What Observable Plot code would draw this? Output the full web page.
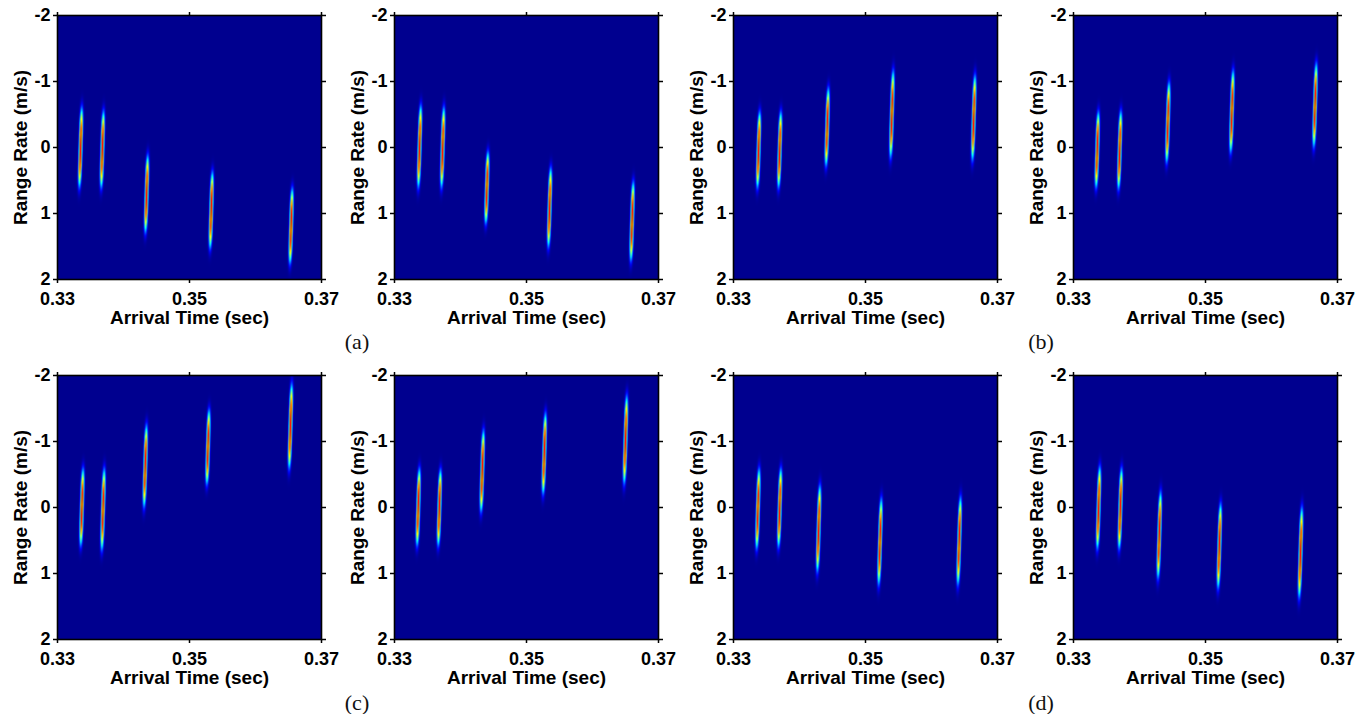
<!DOCTYPE html>
<html><head><meta charset="utf-8">
<script src="https://cdn.jsdelivr.net/npm/d3@7"></script>
<script src="https://cdn.jsdelivr.net/npm/@observablehq/plot@0.6"></script>
<style>
html,body{margin:0;padding:0;background:#fff;}
#fig{position:relative;width:1369px;height:714px;overflow:hidden;}
.panel{position:absolute;}
.panel text{font-weight:bold;}
.cap{position:absolute;font-family:"Liberation Serif","Times New Roman",serif;font-size:22px;color:#111;transform:translate(-50%,-50%);white-space:nowrap;}
</style></head><body><div id="fig"></div>
<script>
// ---- data ----
const panelIds = ["a-left","a-right","b-left","b-right","c-left","c-right","d-left","d-right"];
// arrival time of each of the 5 returns (sec)
const peakTimes = [
  [0.3335, 0.3368, 0.3435, 0.3533, 0.3654],
  [0.3338, 0.3373, 0.3440, 0.3535, 0.3660],
  [0.3338, 0.3370, 0.3442, 0.3540, 0.3664],
  [0.3336, 0.3370, 0.3443, 0.3540, 0.3666],
  [0.3337, 0.3369, 0.3433, 0.3528, 0.3653],
  [0.3336, 0.3368, 0.3433, 0.3527, 0.3650],
  [0.3337, 0.3370, 0.3429, 0.3522, 0.3642],
  [0.3338, 0.3371, 0.3430, 0.3521, 0.3644]
];
// range-rate extent of each streak: upper end (m/s)
const rateTop = [
  [-0.68, -0.62,  0.05,  0.30,  0.55],
  [-0.71, -0.68,  0.00,  0.24,  0.45],
  [-0.61, -0.61, -0.97, -1.24, -1.17],
  [-0.61, -0.62, -1.06, -1.24, -1.35],
  [-0.66, -0.66, -1.32, -1.55, -1.95],
  [-0.66, -0.64, -1.24, -1.50, -1.77],
  [-0.66, -0.66, -0.41, -0.21, -0.23],
  [-0.69, -0.66, -0.31, -0.13, -0.08]
];
// range-rate extent of each streak: lower end (m/s)
const rateBottom = [
  [0.68, 0.68,  1.36,  1.60,  1.83],
  [0.68, 0.68,  1.22,  1.58,  1.79],
  [0.68, 0.68,  0.35,  0.23,  0.27],
  [0.68, 0.70,  0.30,  0.15,  0.07],
  [0.65, 0.72,  0.07, -0.28, -0.51],
  [0.65, 0.65,  0.14, -0.13, -0.28],
  [0.70, 0.67,  1.05,  1.25,  1.25],
  [0.70, 0.70,  1.15,  1.30,  1.45]
];
const xDomain = [0.33, 0.37];
const yDomain = [-2, 2];
const xTicks = [0.33, 0.35, 0.37];
const yTicks = [-2, -1, 0, 1, 2];
const xLabel = "Arrival Time (sec)";
const yLabel = "Range Rate (m/s)";
const captions = ["(a)", "(b)", "(c)", "(d)"];
const jetStops = [0, 0.125, 0.375, 0.625, 0.875, 1];
const jetColors = ["#00008f", "#0000ff", "#00ffff", "#ffff00", "#ff0000", "#800000"];

// ---- layout ----
const W = 264, H = 264, mL = 60, mR = 14, mT = 12, mB = 62;
const colLeft = [57, 394, 733, 1073];
const rowTop = [15, 375];
const capPos = [[357, 342], [1041, 342], [357, 703], [1041, 703]];

const px = (xDomain[1] - xDomain[0]) / W;
const tilt = 0.0003, sw = 0.00016, amp = 0.98;

function intensity(k) {
  const streaks = peakTimes[k].map((t, i) => {
    const lo = rateTop[k][i], hi = rateBottom[k][i];
    return {t, rc: (lo + hi) / 2, L: (hi - lo) / 2 / 1.22};
  });
  const offs = [-0.375, -0.125, 0.125, 0.375].map(o => o * px);
  return (x, y) => {
    let best = 0;
    for (const s of streaks) {
      const d = (y - s.rc) / s.L;
      const along = Math.exp(-d * d * d * d);
      if (along < 1e-4) continue;
      const xc = s.t - tilt * (y - s.rc);
      let acc = 0;
      for (const o of offs) {
        const u = (x + o - xc) / sw;
        acc += Math.exp(-0.5 * u * u);
      }
      const v = amp * along * acc / offs.length;
      if (v > best) best = v;
    }
    return best;
  };
}

const font = "'Liberation Sans', Arial, sans-serif";
const fig = document.getElementById("fig");
panelIds.forEach((id, k) => {
  const col = k % 4, row = Math.floor(k / 4);
  const chart = Plot.plot({
    width: W + mL + mR, height: H + mT + mB,
    marginLeft: mL, marginRight: mR, marginTop: mT, marginBottom: mB,
    style: {fontFamily: font, fontSize: "18px", fontWeight: "bold", color: "black", background: "transparent", overflow: "visible"},
    x: {domain: xDomain},
    y: {domain: yDomain, reverse: true},
    color: {type: "linear", domain: jetStops, range: jetColors, interpolate: "rgb"},
    marks: [
      Plot.raster({x1: xDomain[0], x2: xDomain[1], y1: yDomain[0], y2: yDomain[1], fill: intensity(k)}),
      Plot.frame({stroke: "black", strokeWidth: 1.6}),
      Plot.axisX({anchor: "bottom", ticks: xTicks, tickSize: 4, tickPadding: 9, tickFormat: d => d.toFixed(2), label: null, stroke: "black", strokeWidth: 1.5, fontSize: 18, fontWeight: "bold", fill: "black"}),
      Plot.axisX({anchor: "top", ticks: xTicks, tickSize: 4, tickFormat: () => "", label: null, stroke: "black", strokeWidth: 1.5}),
      Plot.axisY({anchor: "left", ticks: yTicks, tickSize: 4, tickPadding: 3, tickFormat: d => String(d), label: null, stroke: "black", strokeWidth: 1.5, fontSize: 18, fontWeight: "bold", fill: "black"}),
      Plot.axisY({anchor: "right", ticks: yTicks, tickSize: 4, tickFormat: () => "", label: null, stroke: "black", strokeWidth: 1.5}),
      Plot.text([xLabel], {frameAnchor: "bottom", dy: 38, text: d => d, textAnchor: "middle", lineAnchor: "middle", fontSize: 19, fontWeight: "bold", fill: "black"}),
      Plot.text([yLabel], {frameAnchor: "left", dx: -37, rotate: -90, text: d => d, textAnchor: "middle", lineAnchor: "middle", fontSize: 19, fontWeight: "bold", fill: "black"})
    ]
  });
  chart.classList.add("panel");
  chart.style.left = (colLeft[col] - mL) + "px";
  chart.style.top = (rowTop[row] - mT) + "px";
  fig.appendChild(chart);
});
captions.forEach((c, i) => {
  const d = document.createElement("div");
  d.className = "cap";
  d.textContent = c;
  d.style.left = capPos[i][0] + "px";
  d.style.top = capPos[i][1] + "px";
  fig.appendChild(d);
});
</script></body></html>
